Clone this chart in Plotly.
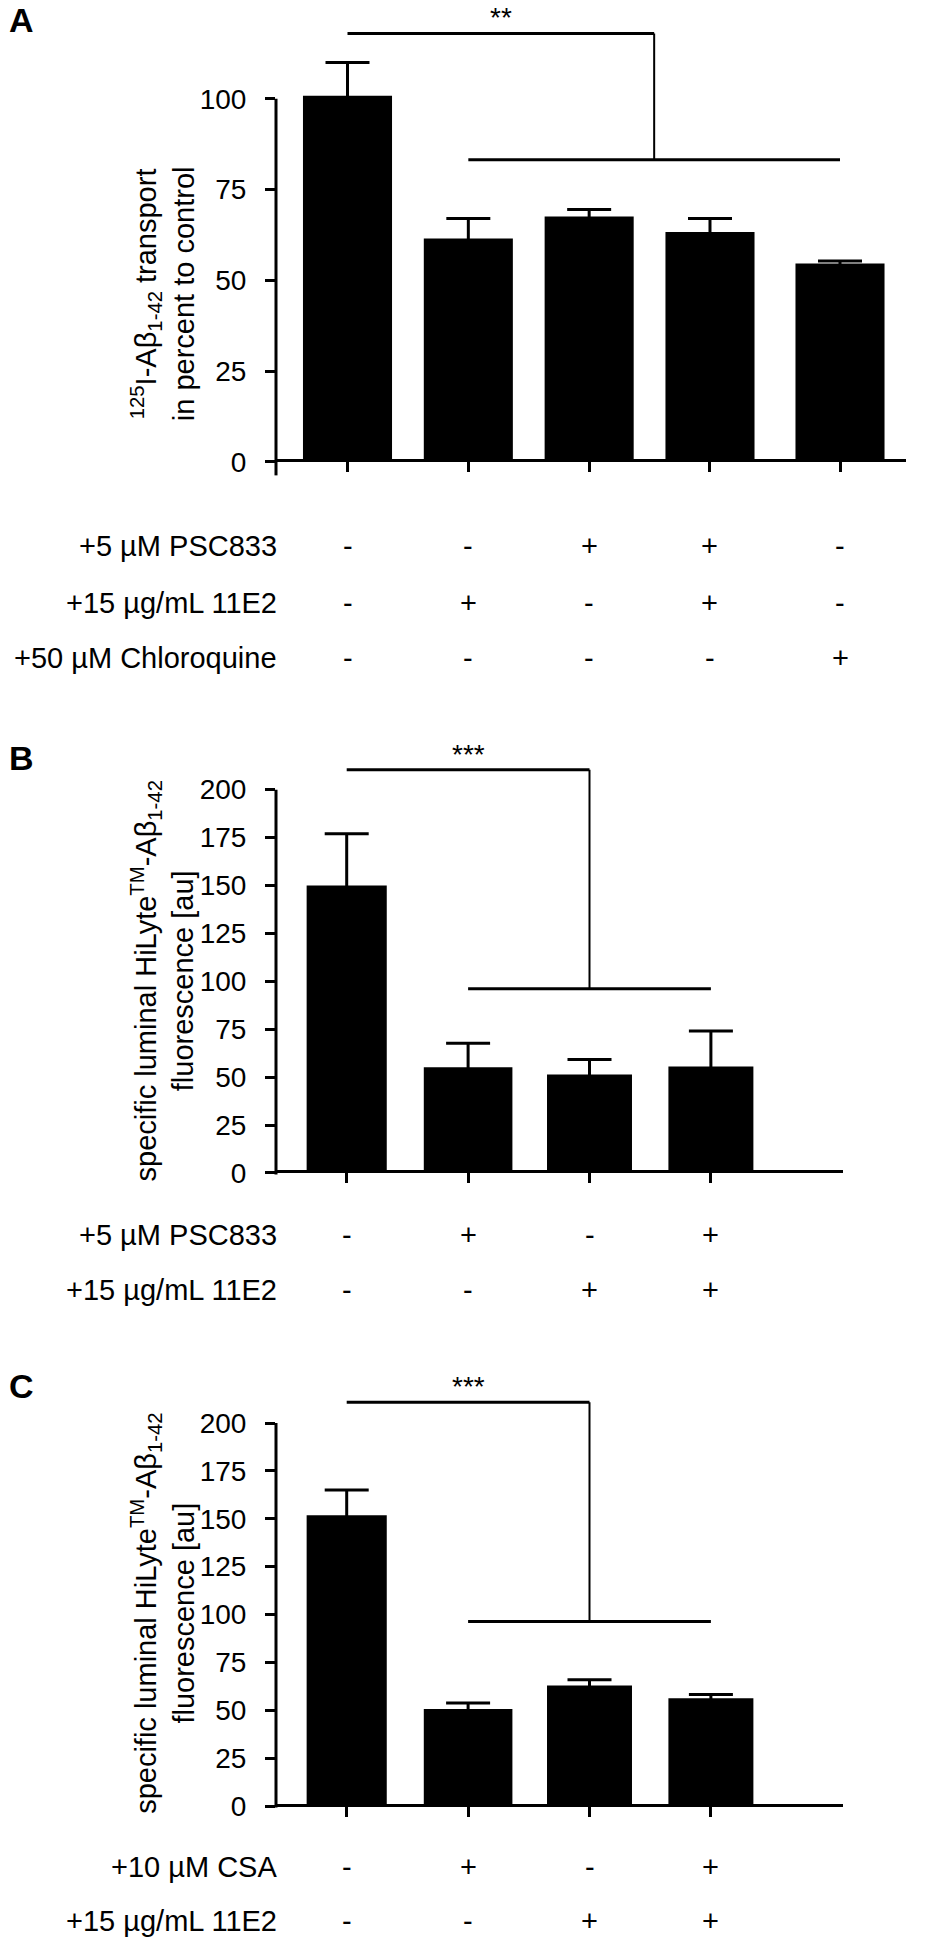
import plotly.graph_objects as go

W, H = 930, 1950
FONT = "Liberation Sans, Arial, Helvetica, sans-serif"

# ---------------- data ----------------
# Panel A
a_values = [100.8, 61.5, 67.6, 63.3, 54.6]
a_errors = [9.2, 5.5, 1.9, 3.7, 0.7]
a_rows = ["+5 µM PSC833", "+15 µg/mL 11E2", "+50 µM Chloroquine"]
a_signs = [["-", "-", "+", "+", "-"],
           ["-", "+", "-", "+", "-"],
           ["-", "-", "-", "-", "+"]]
a_ticks = [0, 25, 50, 75, 100]
a_sig = {"label": "**", "ref": 0, "group": [1, 2, 3, 4], "top": 118.0, "low": 83.2}
a_title = "<sup>125</sup>I-Aβ<sub>1-42</sub> transport<br>in percent to control"

# Panel B
b_values = [150.0, 55.2, 51.4, 55.5]
b_errors = [27.0, 12.5, 7.8, 18.6]
b_rows = ["+5 µM PSC833", "+15 µg/mL 11E2"]
b_signs = [["-", "+", "-", "+"],
           ["-", "-", "+", "+"]]
b_sig = {"label": "***", "ref": 0, "group": [1, 2, 3], "top": 210.4, "low": 96.1}

# Panel C
c_values = [151.8, 50.7, 63.0, 56.3]
c_errors = [13.2, 3.1, 3.0, 2.0]
c_rows = ["+10 µM CSA", "+15 µg/mL 11E2"]
c_signs = [["-", "+", "-", "+"],
           ["-", "-", "+", "+"]]
c_sig = {"label": "***", "ref": 0, "group": [1, 2, 3], "top": 210.9, "low": 96.4}

bc_ticks = [0, 25, 50, 75, 100, 125, 150, 175, 200]
bc_title = "specific luminal HiLyte<sup>TM</sup>-Aβ<sub>1-42</sub><br>fluorescence [au]"

# ---------------- helpers ----------------
def pxx(px):
    return px / W

def pxy(py):
    return 1 - py / H

fig = go.Figure()
layout = dict(
    width=W, height=H, margin=dict(l=0, r=0, t=0, b=0),
    paper_bgcolor="white", plot_bgcolor="white", showlegend=False,
    font=dict(family=FONT, color="black", size=28),
    shapes=[], annotations=[],
)


def add_panel(n, values, errors, xs, widths, x_px, x0_px, unit_px, zero_py, ppu,
              ydom_px, yticks, yline, sig, rows, signs, row_py, title, title_py,
              label, label_py):
    xa = "x" if n == 1 else f"x{n}"
    ya = "y" if n == 1 else f"y{n}"
    xkey = "xaxis" if n == 1 else f"xaxis{n}"
    ykey = "yaxis" if n == 1 else f"yaxis{n}"

    fig.add_trace(go.Bar(
        x=xs, y=values, width=widths, xaxis=xa, yaxis=ya,
        marker=dict(color="black", line=dict(width=0)),
        error_y=dict(type="data", array=errors, symmetric=True,
                     color="black", thickness=3, width=22),
        hoverinfo="skip",
    ))

    layout[xkey] = dict(
        domain=[pxx(x_px[0]), pxx(x_px[1])],
        range=[(x_px[0] - x0_px) / unit_px, (x_px[1] - x0_px) / unit_px],
        anchor="free", position=pxy(zero_py) + 1.5 / H,
        showline=True, linewidth=3, linecolor="black",
        ticks="outside", ticklen=10, tickwidth=3, tickcolor="black",
        tickvals=xs, showticklabels=False, showgrid=False, zeroline=False,
        fixedrange=True,
    )
    layout[ykey] = dict(
        domain=[pxy(ydom_px[1]), pxy(ydom_px[0])],
        range=[(zero_py - ydom_px[1]) / ppu, (zero_py - ydom_px[0]) / ppu],
        anchor=xa, showline=False,
        ticks="outside", ticklen=10, tickwidth=3, tickcolor="black",
        tickvals=yticks, ticktext=[str(t) for t in yticks],
        tickfont=dict(size=28, family=FONT, color="black"),
        ticklabelstandoff=13,
        showgrid=False, zeroline=False, fixedrange=True,
    )
    # y axis line
    layout["shapes"].append(dict(
        type="line", xref=f"{xa} domain", yref=ya, x0=0, x1=0,
        y0=yline[0], y1=yline[1], line=dict(color="black", width=3)))

    # significance bracket
    ref_x = xs[sig["ref"]]
    gx = [xs[i] for i in sig["group"]]
    mid = (min(gx) + max(gx)) / 2
    layout["shapes"].append(dict(
        type="line", xref=xa, yref=ya, x0=ref_x, x1=mid, y0=sig["top"], y1=sig["top"],
        line=dict(color="black", width=3)))
    layout["shapes"].append(dict(
        type="line", xref=xa, yref=ya, x0=mid, x1=mid, y0=sig["top"], y1=sig["low"],
        line=dict(color="black", width=2)))
    layout["shapes"].append(dict(
        type="line", xref=xa, yref=ya, x0=min(gx), x1=max(gx), y0=sig["low"], y1=sig["low"],
        line=dict(color="black", width=3)))
    layout["annotations"].append(dict(
        xref=xa, yref=ya, x=(ref_x + mid) / 2, y=sig["top"], text=sig["label"],
        showarrow=False, xanchor="center", yanchor="bottom", yshift=-2,
        font=dict(size=28, family=FONT, color="black")))

    # treatment rows
    for r, (lab, py) in enumerate(zip(rows, row_py)):
        layout["annotations"].append(dict(
            xref="paper", yref="paper", x=pxx(279), y=pxy(py), text=lab,
            showarrow=False, xanchor="right", yanchor="middle",
            font=dict(size=29, family=FONT, color="black")))
        for xv, s in zip(xs, signs[r]):
            layout["annotations"].append(dict(
                xref=xa, yref="paper", x=xv, y=pxy(py), text=s,
                showarrow=False, xanchor="center", yanchor="middle",
                font=dict(size=29, family=FONT, color="black")))

    # axis title
    layout["annotations"].append(dict(
        xref="paper", yref="paper", x=pxx(163), y=pxy(title_py), text=title,
        textangle=-90, showarrow=False, xanchor="center", yanchor="middle",
        font=dict(size=29, family=FONT, color="black")))

    # panel letter
    layout["annotations"].append(dict(
        xref="paper", yref="paper", x=pxx(21), y=pxy(label_py), text=f"<b>{label}</b>",
        showarrow=False, xanchor="center", yanchor="middle",
        font=dict(size=34, family=FONT, color="black")))


# category positions (last group in A is set slightly apart)
a_x = [0, 1, 2, 3, 4.076]
bc_x = [0, 1, 2, 3]

add_panel(1, a_values, a_errors, a_x, [0.737] * 5,
          x_px=(276, 906), x0_px=347.5, unit_px=120.83,
          zero_py=463, ppu=3.64, ydom_px=(20, 477), yticks=a_ticks,
          yline=(-3.8, 100), sig=a_sig, rows=a_rows, signs=a_signs,
          row_py=[547, 605, 660], title=a_title, title_py=295,
          label="A", label_py=20)

add_panel(2, b_values, b_errors, bc_x, [0.66, 0.73, 0.70, 0.70],
          x_px=(276, 842.7), x0_px=346.7, unit_px=121.4,
          zero_py=1176, ppu=1.9215, ydom_px=(740, 1188), yticks=bc_ticks,
          yline=(-0.8, 200), sig=b_sig, rows=b_rows, signs=b_signs,
          row_py=[1238, 1293], title=bc_title, title_py=984,
          label="B", label_py=760)

add_panel(3, c_values, c_errors, bc_x, [0.66, 0.73, 0.70, 0.70],
          x_px=(276, 842.7), x0_px=346.7, unit_px=121.4,
          zero_py=1810.7, ppu=1.92, ydom_px=(1375, 1822), yticks=bc_ticks,
          yline=(-0.8, 200), sig=c_sig, rows=c_rows, signs=c_signs,
          row_py=[1872, 1926], title=bc_title, title_py=1618,
          label="C", label_py=1390)

fig.update_layout(**layout)
fig.write_html("out.html",
               config={"displayModeBar": False, "staticPlot": True},
               post_script="document.body.style.margin='0px';"
                           "document.body.style.overflow='hidden';")
